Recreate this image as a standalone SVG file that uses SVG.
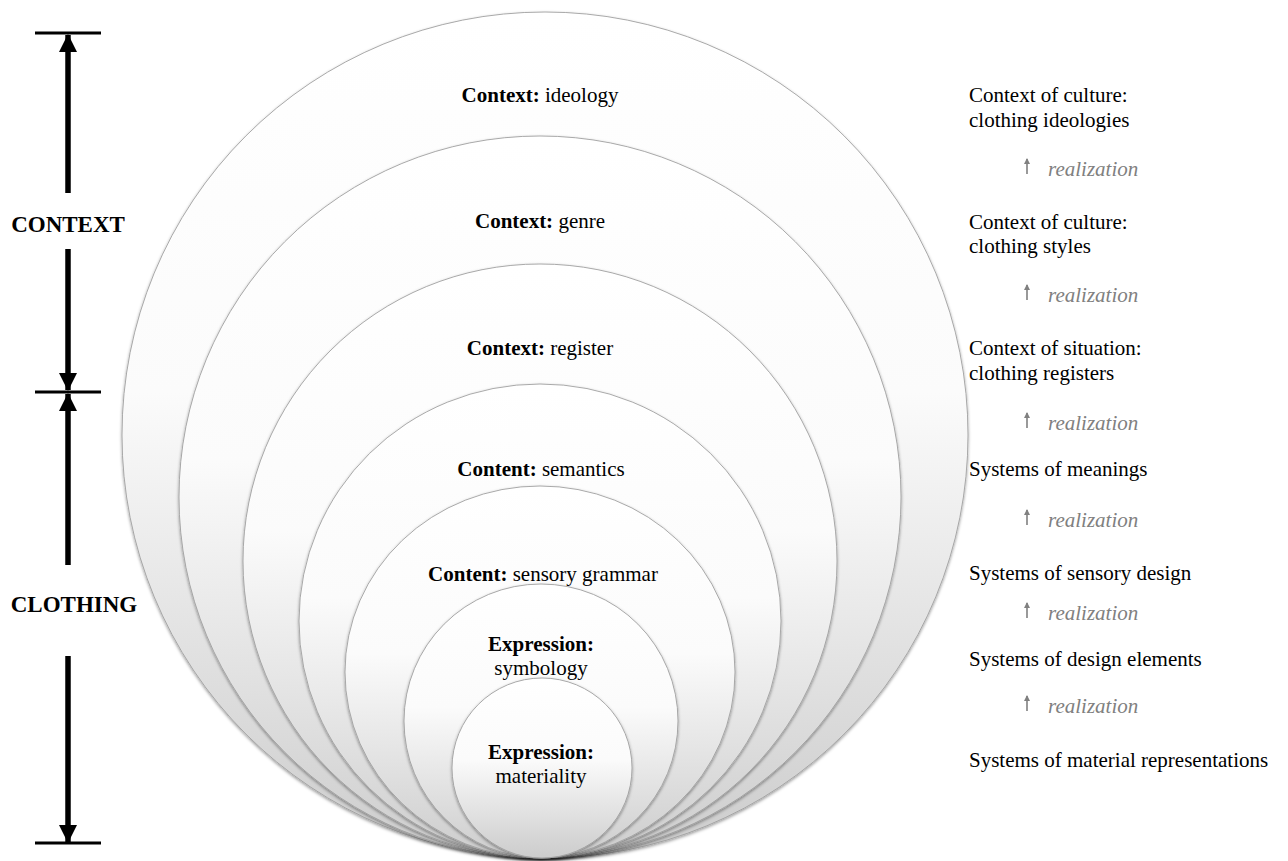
<svg xmlns="http://www.w3.org/2000/svg" width="1288" height="861" viewBox="0 0 1288 861">
  <defs>
    <linearGradient id="discFill" x1="0" y1="0" x2="0" y2="1">
      <stop offset="0" stop-color="#ffffff"/>
      <stop offset="0.45" stop-color="#fbfbfb"/>
      <stop offset="1" stop-color="#cccccc"/>
    </linearGradient>
    <filter id="softShadow" x="-10%" y="-10%" width="120%" height="120%">
      <feDropShadow dx="0" dy="1.5" stdDeviation="1.6" flood-color="#000" flood-opacity="0.4"/>
    </filter>
    <marker id="axisHead" viewBox="0 0 18 18" markerWidth="18" markerHeight="18" refX="17" refY="9" orient="auto" markerUnits="userSpaceOnUse">
      <path d="M0,0 L18,9 L0,18 Z" fill="#000"/>
    </marker>
    <marker id="smallHead" viewBox="0 0 6 6" markerWidth="6" markerHeight="6" refX="5" refY="3" orient="auto" markerUnits="userSpaceOnUse">
      <path d="M0,0 L6,3 L0,6 Z" fill="#808080"/>
    </marker>
  </defs>
  <style>
    .disc { fill: url(#discFill); stroke: #a0a0a0; stroke-width: 0.9; filter: url(#softShadow); }
    .lbl { font-family: "Liberation Serif", "Times New Roman", serif; font-size: 21px; fill: #000; }
    .lbl .b { font-weight: bold; }
    .side { font-family: "Liberation Serif", "Times New Roman", serif; font-size: 21px; fill: #000; }
    .real { font-family: "Liberation Serif", "Times New Roman", serif; font-size: 21px; font-style: italic; fill: #808080; }
    .axisTitle { font-family: "Liberation Serif", "Times New Roman", serif; font-size: 23px; font-weight: bold; fill: #000; }
    .axis { stroke: #000; stroke-width: 5.5; fill: none; }
    .bar { stroke: #000; stroke-width: 3; }
    .realArrow { stroke: #808080; stroke-width: 1.6; fill: none; }
  </style>

  <!-- nested strata, all resting on the same bottom point -->
  <g id="ideology"><circle class="disc" cx="545" cy="435" r="423"/>
    <text class="lbl" x="540" y="102" text-anchor="middle"><tspan class="b">Context:</tspan> ideology</text></g>
  <g id="genre"><circle class="disc" cx="540" cy="497" r="361"/>
    <text class="lbl" x="540" y="228" text-anchor="middle"><tspan class="b">Context:</tspan> genre</text></g>
  <g id="register"><circle class="disc" cx="540" cy="561" r="297"/>
    <text class="lbl" x="540" y="355" text-anchor="middle"><tspan class="b">Context:</tspan> register</text></g>
  <g id="semantics"><ellipse class="disc" cx="540" cy="621" rx="241" ry="237"/>
    <text class="lbl" x="541" y="476" text-anchor="middle"><tspan class="b">Content:</tspan> semantics</text></g>
  <g id="sensory-grammar"><ellipse class="disc" cx="540" cy="672" rx="195" ry="186"/>
    <text class="lbl" x="543" y="581" text-anchor="middle"><tspan class="b">Content:</tspan> sensory grammar</text></g>
  <g id="symbology"><circle class="disc" cx="541" cy="721" r="137"/>
    <text class="lbl" x="541" y="651" text-anchor="middle"><tspan class="b">Expression:</tspan></text>
    <text class="lbl" x="541" y="675" text-anchor="middle">symbology</text></g>
  <g id="materiality"><circle class="disc" cx="542" cy="768" r="90"/>
    <text class="lbl" x="541" y="759" text-anchor="middle"><tspan class="b">Expression:</tspan></text>
    <text class="lbl" x="541" y="783" text-anchor="middle">materiality</text></g>

  <!-- left scale: context / clothing spans -->
  <g id="scale">
    <line class="bar" x1="35" y1="33" x2="101" y2="33"/>
    <line class="bar" x1="35" y1="392" x2="101" y2="392"/>
    <line class="bar" x1="35" y1="843" x2="101" y2="843"/>
    <text class="axisTitle" x="68" y="232" text-anchor="middle">CONTEXT</text>
    <text class="axisTitle" x="74" y="612" text-anchor="middle">CLOTHING</text>
  </g>

  <g id="connectors">
    <line class="axis" x1="68" y1="193" x2="68" y2="35" marker-end="url(#axisHead)"/>
    <line class="axis" x1="68" y1="249" x2="68" y2="390" marker-end="url(#axisHead)"/>
    <line class="axis" x1="68" y1="565" x2="68" y2="394" marker-end="url(#axisHead)"/>
    <line class="axis" x1="68" y1="656" x2="68" y2="842" marker-end="url(#axisHead)"/>

    <line class="realArrow" x1="1027" y1="174" x2="1027" y2="159" marker-end="url(#smallHead)"/>
    <line class="realArrow" x1="1027" y1="300" x2="1027" y2="285" marker-end="url(#smallHead)"/>
    <line class="realArrow" x1="1027" y1="428" x2="1027" y2="413" marker-end="url(#smallHead)"/>
    <line class="realArrow" x1="1027" y1="525" x2="1027" y2="510" marker-end="url(#smallHead)"/>
    <line class="realArrow" x1="1027" y1="618" x2="1027" y2="603" marker-end="url(#smallHead)"/>
    <line class="realArrow" x1="1027" y1="711" x2="1027" y2="696" marker-end="url(#smallHead)"/>
  </g>

  <!-- stratum descriptions -->
  <g id="descriptions">
    <text class="side" x="969" y="102">Context of culture:</text>
    <text class="side" x="969" y="127">clothing ideologies</text>
    <text class="real" x="1048" y="176">realization</text>
    <text class="side" x="969" y="229">Context of culture:</text>
    <text class="side" x="969" y="253">clothing styles</text>
    <text class="real" x="1048" y="302">realization</text>
    <text class="side" x="969" y="355">Context of situation:</text>
    <text class="side" x="969" y="380">clothing registers</text>
    <text class="real" x="1048" y="430">realization</text>
    <text class="side" x="969" y="476">Systems of meanings</text>
    <text class="real" x="1048" y="527">realization</text>
    <text class="side" x="969" y="580">Systems of sensory design</text>
    <text class="real" x="1048" y="620">realization</text>
    <text class="side" x="969" y="666">Systems of design elements</text>
    <text class="real" x="1048" y="713">realization</text>
    <text class="side" x="969" y="767">Systems of material representations</text>
  </g>
</svg>
